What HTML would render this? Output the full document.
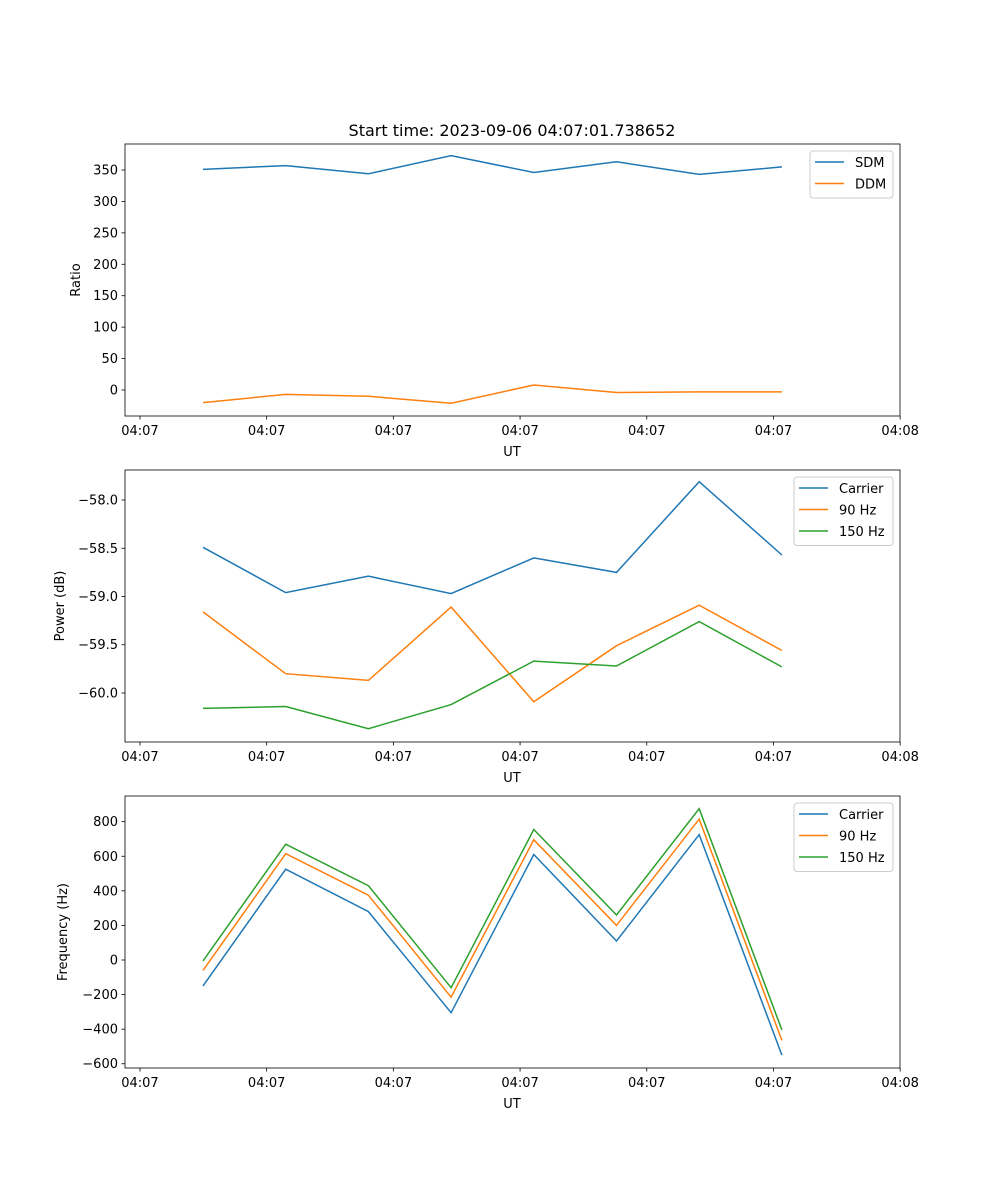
<!DOCTYPE html>
<html><head><meta charset="utf-8"><style>
body{margin:0;background:#fff}
svg{display:block;font-family:"DejaVu Sans","Liberation Sans",sans-serif}
</style></head><body>
<svg id="fig" width="1000" height="1200" xmlns="http://www.w3.org/2000/svg">
<rect width="1000" height="1200" fill="#fff"/>
<text x="512" y="136" font-size="16" text-anchor="middle">Start time: 2023-09-06 04:07:01.738652</text>
</svg>
<script>
const xTickLabels = ["04:07","04:07","04:07","04:07","04:07","04:07","04:08"];
const sdm = [351,357,344,373,346,363,343,355];
const ddm = [-20,-7,-10,-21,8,-4,-3,-3];
const pCarrier = [-58.49,-58.96,-58.79,-58.97,-58.60,-58.75,-57.81,-58.57];
const p90 = [-59.16,-59.80,-59.87,-59.11,-60.09,-59.51,-59.09,-59.56];
const p150 = [-60.16,-60.14,-60.37,-60.12,-59.67,-59.72,-59.26,-59.73];
const fCarrier = [-150,525,280,-305,610,110,725,-550];
const f90 = [-60,615,375,-215,695,200,815,-465];
const f150 = [-5,670,430,-160,755,260,875,-405];
const ratioTicks = [0,50,100,150,200,250,300,350];
const powerTicks = [-60.0,-59.5,-59.0,-58.5,-58.0];
const freqTicks = [-600,-400,-200,0,200,400,600,800];

const NS="http://www.w3.org/2000/svg";
const svg=document.getElementById('fig');
function mk(tag,attrs,parent){const e=document.createElementNS(NS,tag);for(const k in attrs)e.setAttribute(k,attrs[k]);(parent||svg).appendChild(e);return e;}
const X0=125,X1=900,IMIN=-0.943,IMAX=8.428;
function xs(i){return X0+(i-IMIN)/(IMAX-IMIN)*(X1-X0);}
const tickStart=-0.762, tickStep=1.532;
const C={blue:"#1f77b4",orange:"#ff7f0e",green:"#2ca02c"};

function panel(name,top,bot,ymin,ymax,yticks,fmt,ylabel,series,leg){
  const g=mk('g',{});
  
  
  const ys=v=>bot-(v-ymin)/(ymax-ymin)*(bot-top);
  series.forEach(s=>{
    const pts=s.data.map((v,i)=>xs(i).toFixed(1)+','+ys(v).toFixed(1)).join(' ');
    const p=mk('polyline',{points:pts,fill:'none',stroke:s.color,'stroke-width':1.5},g);
    
    
  });
  const fr=mk('rect',{x:X0,y:top,width:X1-X0,height:bot-top,fill:'none',stroke:'#000','stroke-width':0.8},g);
  
  
  yticks.forEach(v=>{const y=ys(v);
    mk('line',{x1:X0-3.5,x2:X0,y1:y,y2:y,stroke:'#000','stroke-width':0.8},g);
    const t=mk('text',{x:X0-7,y:y+4.5,'font-size':13,'text-anchor':'end'},g);t.textContent=fmt(v);
    
    
  });
  xTickLabels.forEach((l,k)=>{const x=xs(tickStart+k*tickStep);
    mk('line',{x1:x,x2:x,y1:bot,y2:bot+3.5,stroke:'#000','stroke-width':0.8},g);
    const t=mk('text',{x:x,y:bot+19,'font-size':13,'text-anchor':'middle'},g);t.textContent=l;
    
    
  });
  const xl=mk('text',{x:512,y:bot+40,'font-size':13,'text-anchor':'middle'},g);xl.textContent='UT';
  
  
  const cy=(top+bot)/2;
  const yl=mk('text',{x:ylabel.x,y:cy,'font-size':13,'text-anchor':'middle',transform:`rotate(-90 ${ylabel.x} ${cy})`},g);yl.textContent=ylabel.t;
  
  
  const lg=mk('g',{},g);
  
  
  mk('rect',{x:leg.x,y:top+7,width:893-leg.x,height:series.length*21.5+4,rx:3,fill:'#fff','fill-opacity':0.8,stroke:'#ccc','stroke-width':1},lg);
  series.forEach((s,i)=>{const y=top+18+i*21.5;
    const e=mk('g',{},lg);
    
    
    mk('line',{x1:leg.x+5,x2:leg.x+34,y1:y,y2:y,stroke:s.color,'stroke-width':1.5},e);
    const t=mk('text',{x:leg.x+45,y:y+5,'font-size':13},e);t.textContent=s.label;
  });
}
panel('ratio',144,416,-41.4,391.4,ratioTicks,v=>String(v),{x:80,t:'Ratio'},
  [{key:'sdm',label:'SDM',data:sdm,color:C.blue},{key:'ddm',label:'DDM',data:ddm,color:C.orange}],{x:810});
panel('power',470,742,-60.508,-57.689,powerTicks,v=>'\u2212'+Math.abs(v).toFixed(1),{x:64,t:'Power (dB)'},
  [{key:'carrier',label:'Carrier',data:pCarrier,color:C.blue},{key:'90hz',label:'90 Hz',data:p90,color:C.orange},{key:'150hz',label:'150 Hz',data:p150,color:C.green}],{x:794});
panel('frequency',796,1068,-624.6,948.5,freqTicks,v=>v<0?'\u2212'+Math.abs(v):String(v),{x:67,t:'Frequency (Hz)'},
  [{key:'carrier',label:'Carrier',data:fCarrier,color:C.blue},{key:'90hz',label:'90 Hz',data:f90,color:C.orange},{key:'150hz',label:'150 Hz',data:f150,color:C.green}],{x:794});
</script>
</body></html>
